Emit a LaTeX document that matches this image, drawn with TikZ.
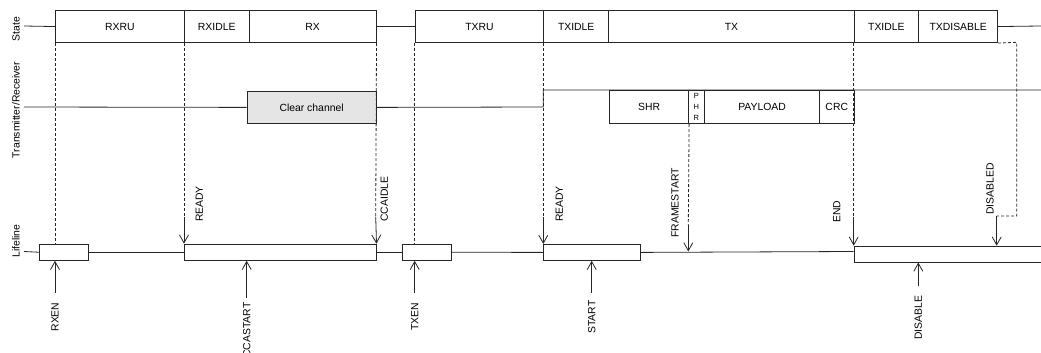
\documentclass[tikz,border=0pt]{standalone}
\usepackage{fontspec}
\setmainfont{Liberation Sans}
\usetikzlibrary{arrows.meta,calc}
\tikzset{
  ln/.style={line width=0.8pt,draw=black!85},
  dsh/.style={ln,dash pattern=on 3pt off 2pt},
  arr/.style={ln,-{Straight Barb[length=8pt,width=9pt,line width=0.8pt]}},
  bx/.style={ln,rectangle,inner sep=0pt,anchor=north west,font=\fontsize{10.4}{12}\selectfont},
  lbl/.style={rotate=90,inner sep=0pt,font=\fontsize{10.4}{12}\selectfont},
}
\newcommand{\mybox}[6]{% name, x1, x2, y1, y2, text
  \node[bx,minimum width={(#3-#2)*1pt},minimum height={(#5-#4)*1pt}] (#1) at (#2,#4) {#6};}
\begin{document}
\begin{tikzpicture}[x=1pt,y=-1pt]
\useasboundingbox (0,0) rectangle (1041,353);
% side labels
\node[lbl] (lstate) at (16,29) {State};
\node[lbl] (ltr) at (16,110) {Transmitter/Receiver};
\node[lbl] (llife) at (16,241) {Lifeline};
% state row
\mybox{rxru}{55}{184}{10}{42.3}{RXRU}
\mybox{rxidle}{184}{248.7}{10}{42.3}{RXIDLE}
\mybox{rx}{248.7}{375.7}{10}{42.3}{RX}
\mybox{txru}{414.7}{543.3}{10}{42.3}{TXRU}
\mybox{txidleA}{543.3}{608.3}{10}{42.3}{TXIDLE}
\mybox{tx}{608.3}{853.7}{10}{42.3}{TX}
\mybox{txidleB}{853.7}{918.3}{10}{42.3}{TXIDLE}
\mybox{txdis}{918.3}{997.3}{10}{42.3}{TXDISABLE}
\coordinate (sL) at (24,26);
\coordinate (sR) at (1041,26);
\draw[ln] (sL) -- (rxru.west);
\draw[ln] (rx.east) -- (txru.west);
\draw[ln] (txdis.east) -- (sR);
% transmitter/receiver row
\node[bx,fill=black!10,minimum width=129pt,minimum height=32.6pt] (cc) at (246.7,90.7) {Clear channel};
\mybox{shr}{609.3}{688.3}{90}{123.3}{SHR}
\mybox{phr}{688.3}{704.3}{90}{123.3}{}
\node[inner sep=0pt,font=\fontsize{7.5}{8}\selectfont] (phrP) at (696.3,95.7) {P};
\node[inner sep=0pt,font=\fontsize{7.5}{8}\selectfont] (phrH) at (696.3,106.5) {H};
\node[inner sep=0pt,font=\fontsize{7.5}{8}\selectfont] (phrR) at (696.3,117.5) {R};
\mybox{payload}{704.3}{819}{90}{123.3}{PAYLOAD}
\mybox{crc}{819}{853.7}{90}{123.3}{CRC}
\coordinate (tL) at (24,107);
\coordinate (tS) at (543.3,107);
\coordinate (tU) at (543.3,90);
\coordinate (tR) at (1041,90);
\draw[ln] (tL) -- (cc.west);
\draw[ln] (cc.east) -- (tS) -- (tU) -- (tR);
% lifeline row
\mybox{bA}{39.3}{87.7}{243.7}{260}{}
\mybox{bB}{184}{375.7}{243.7}{260}{}
\mybox{bC}{402.3}{451.3}{243.7}{260}{}
\mybox{bD}{543.3}{640.3}{244}{260}{}
\mybox{bE}{853.7}{1046}{245.7}{261.7}{}
\coordinate (lL) at (24,251.5);
\coordinate (lE) at (853.7,251.5);
\draw[ln] (lL) -- (bA.west);
\draw[ln] (bA.east) -- (bB.west);
\draw[ln] (bB.east) -- (bC.west);
\draw[ln] (bC.east) -- (bD.west);
\draw[ln] (bD.east) -- (lE);
% dashed guides and events from above
\draw[dsh] (rxru.south west) -- (bA.north -| rxru.south west);
\coordinate (rdy1) at (184,216.7);
\draw[dsh] (rxidle.south west) -- (rdy1);
\draw[arr] (rdy1) -- (bB.north west);
\coordinate (cca) at (375.7,216.7);
\draw[dsh] (rx.south east) -- (cca);
\draw[arr] (cca) -- (bB.north east);
\draw[dsh] (txru.south west) -- (bC.north -| txru.south west);
\coordinate (rdy2) at (543.3,216.7);
\draw[dsh] (txidleA.south west) -- (rdy2);
\draw[arr] (rdy2) -- (bD.north west);
\coordinate (fs) at (688.3,225);
\coordinate (fsE) at (688.3,251.5);
\draw[dsh] (shr.south east) -- (fs);
\draw[arr] (fs) -- (fsE);
\coordinate (endc) at (853.7,216.7);
\draw[dsh] (txidleB.south west) -- (endc);
\draw[arr] (endc) -- (bE.north west);
\coordinate (dA) at (1016.7,42.3);
\coordinate (dB) at (1016.7,216);
\coordinate (dC) at (996.7,216);
\coordinate (dE) at (996.7,245.7);
\draw[dsh] (txdis.south east) -- (dA) -- (dB) -- (dC);
\draw[arr] (dC) -- (dE);
% labels above lifeline
\node[lbl] (lready1) at (199.3,204) {READY};
\node[lbl] (lccaidle) at (384.3,199) {CCAIDLE};
\node[lbl] (lready2) at (559.3,204) {READY};
\node[lbl] (lfs) at (675,203) {FRAMESTART};
\node[lbl] (lend) at (836.7,211.5) {END};
\node[lbl] (ldisd) at (990,189) {DISABLED};
% tasks from below
\coordinate (rxen) at (55,292.7);
\draw[arr] (rxen) -- (bA.south -| rxen);
\coordinate (ccas) at (246.7,298);
\draw[arr] (ccas) -- (bB.south -| ccas);
\coordinate (txen) at (414.7,292.7);
\draw[arr] (txen) -- (bC.south -| txen);
\coordinate (start) at (591.7,292.7);
\draw[arr] (start) -- (bD.south -| start);
\coordinate (dis) at (918.3,286);
\draw[arr] (dis) -- (bE.south -| dis);
\node[lbl] (lrxen) at (55,317) {RXEN};
\node[lbl] (lccas) at (246.7,330) {CCASTART};
\node[lbl] (ltxen) at (414.7,316.7) {TXEN};
\node[lbl] (lstart) at (591.7,317) {START};
\node[lbl] (ldis) at (918.3,318) {DISABLE};
\end{tikzpicture}
\end{document}
